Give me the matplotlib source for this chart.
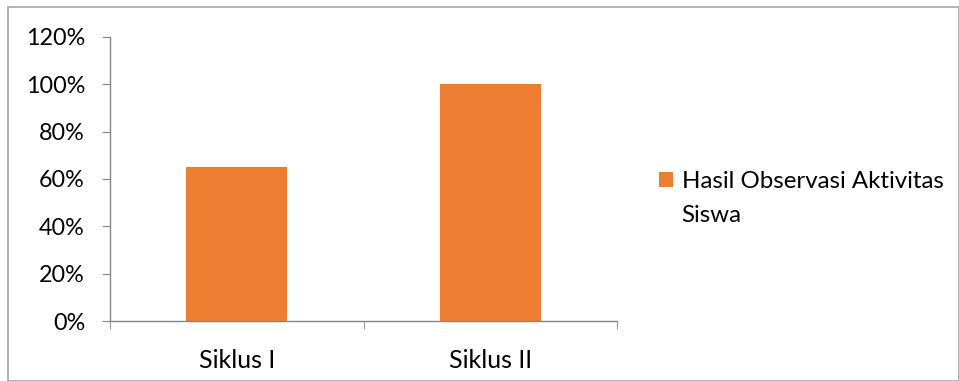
import matplotlib
matplotlib.use("Agg")
import matplotlib.pyplot as plt
from matplotlib.patches import Rectangle
from matplotlib.ticker import FuncFormatter

categories = ["Siklus I", "Siklus II"]
values = [0.65, 1.00]
series_label = "Hasil Observasi Aktivitas"
series_label_2 = "Siswa"
yticks = [0, 0.2, 0.4, 0.6, 0.8, 1.0, 1.2]

orange = "#ED7D31"
axis_grey = "#868686"

plt.rcParams['font.family'] = ['Lato', 'DejaVu Sans']

W, H = 959, 381
fig = plt.figure(figsize=(W / 100, H / 100), dpi=100)
fig.patches.append(Rectangle((8 / W, 0), (W - 8) / W, (H - 7) / H, transform=fig.transFigure,
                             fill=False, edgecolor="#A6A6A6", linewidth=1.2))

ax = fig.add_axes([110 / W, 1 - 321 / H, (617 - 110) / W, (321 - 37) / H])
x = list(range(len(categories)))
ax.bar(x, values, width=0.4, color=orange, label=series_label)
ax.set_xlim(-0.5, len(categories) - 0.5)
ax.set_ylim(0, 1.2)
ax.set_yticks(yticks)
ax.yaxis.set_major_formatter(FuncFormatter(lambda v, p: f"{v*100:.0f}%"))
ax.set_xticks(x)
ax.set_xticklabels(categories)
ax.set_xticks([-0.5, 0.5, 1.5], minor=True)
ax.tick_params(axis='x', which='major', length=0, pad=20, labelsize=18)
ax.tick_params(axis='x', which='minor', length=6, color=axis_grey, direction='out')
ax.tick_params(axis='y', length=6, color=axis_grey, pad=12, labelsize=16.8)
for s in ["top", "right"]:
    ax.spines[s].set_visible(False)
for s in ["left", "bottom"]:
    ax.spines[s].set_color(axis_grey)
    ax.spines[s].set_linewidth(1.0)

leg = fig.legend(loc="upper left", bbox_to_anchor=(659 / W, 1 - 171 / H), frameon=False,
                 fontsize=17.3, handlelength=0.6, handleheight=0.6, handletextpad=0.35,
                 borderpad=0, borderaxespad=0)
fig.text(681 / W, 1 - 215 / H, series_label_2, fontsize=17.3, va="center", ha="left")

fig.savefig("out.png", dpi=100)
